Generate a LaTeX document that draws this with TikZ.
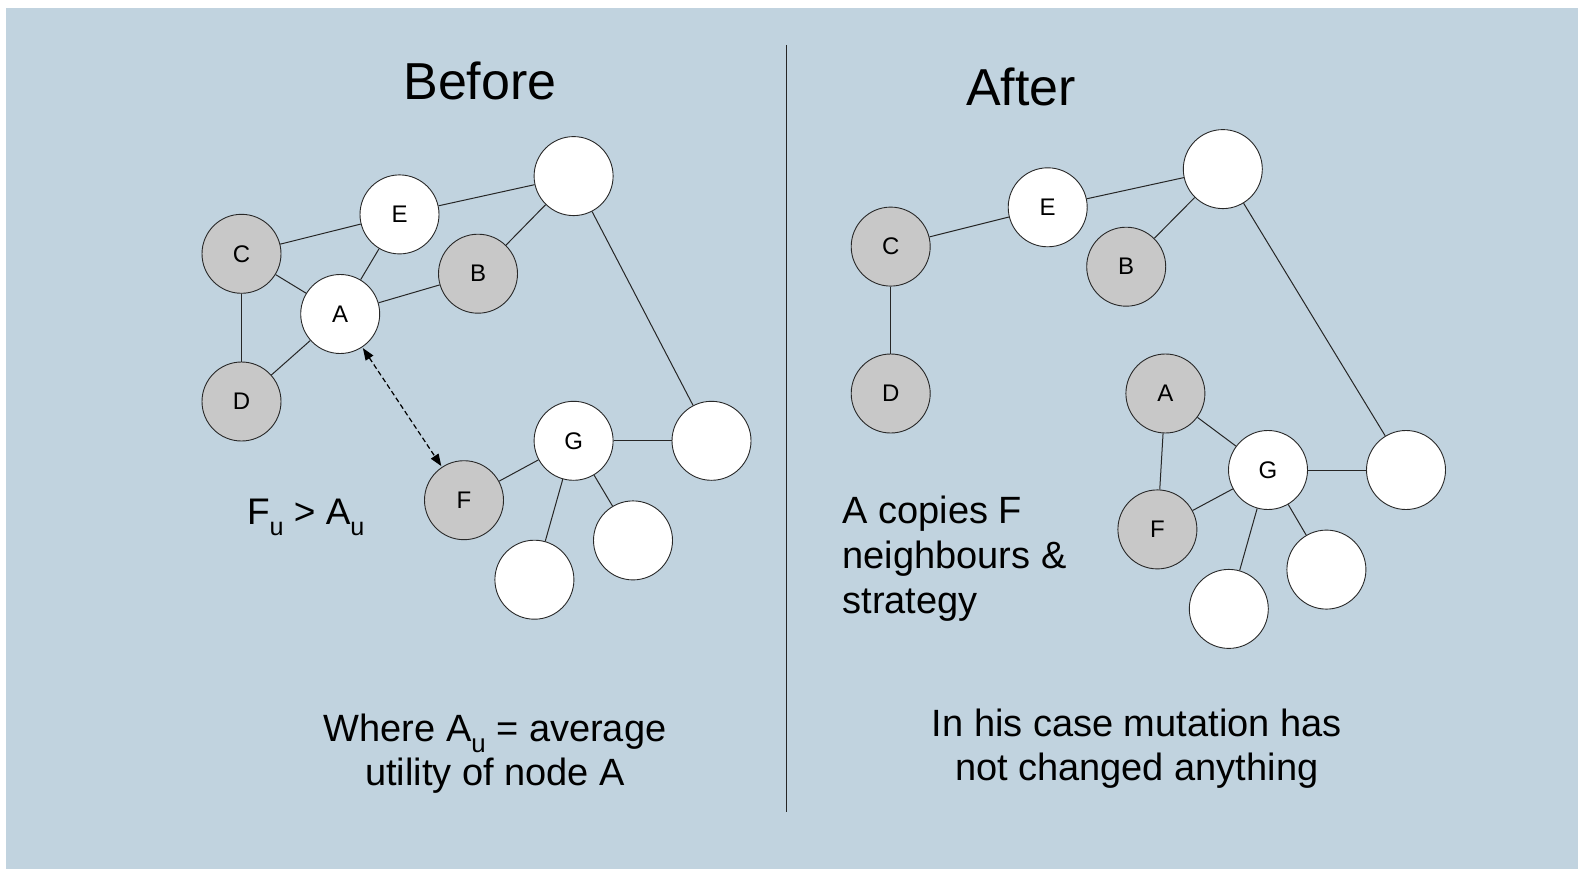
\documentclass[tikz,border=0pt]{standalone}
\usepackage{fontspec}
\setmainfont{Liberation Sans}
\usepackage{graphicx}
\usetikzlibrary{arrows.meta}
\definecolor{panel}{RGB}{193,211,223}
\definecolor{nodegray}{RGB}{200,200,200}
\definecolor{rim}{RGB}{40,40,40}
\newcommand\lowu{\raisebox{-0.3em}{\scalebox{0.68}{u}}}

\begin{document}
\begin{tikzpicture}[x=1pt,y=-1pt,
  agent/.style={circle,draw=rim,line width=0.9pt,fill=white,minimum size=79pt,
    inner sep=0pt,font=\fontsize{24}{24}\selectfont},
  greyagent/.style={agent,fill=nodegray},
  link/.style={draw=black!85,line width=1pt},
  title/.style={font=\fontsize{52}{52}\selectfont,anchor=base},
  caption/.style={font=\fontsize{38}{44}\selectfont,anchor=base,align=center},
  lefttext/.style={font=\fontsize{38}{45}\selectfont,anchor=base west,align=left},
  compare/.style={<->,>={Triangle[length=12pt,width=9pt]},dashed,
    dash pattern=on 5pt off 3pt,line width=1.2pt,shorten <=1pt,shorten >=1pt}]

% page and panel
\useasboundingbox (0,0) rectangle (1578,869);
\fill[white] (0,0) rectangle (1578,869);
\fill[panel] (6,8) rectangle (1578,869);

% divider between the two states
\coordinate (divtop) at (786,45);
\coordinate (divbot) at (786,812);
\draw[line width=1pt,black!85] (divtop) -- (divbot);

% titles
\node[title] (before) at (480,100) {Before};
\node[title] (after) at (1021,106) {After};

% ---------- network before ----------
\node[greyagent] (bC) at (241.5,253.8) {C};
\node[greyagent] (bD) at (241.5,401.5) {D};
\node[agent]     (bA) at (340.2,314) {A};
\node[agent]     (bE) at (399.5,214.4) {E};
\node[greyagent] (bB) at (478,273.7) {B};
\node[agent]     (bT) at (573.6,176.1) {};
\node[agent]     (bG) at (573.6,440.8) {G};
\node[agent]     (bR) at (711.5,440.8) {};
\node[greyagent] (bF) at (464,500.2) {F};
\node[agent]     (bP) at (633,540.4) {};
\node[agent]     (bQ) at (534.4,579.7) {};

\draw[link] (bC) -- (bE);
\draw[link] (bC) -- (bA);
\draw[link] (bC) -- (bD);
\draw[link] (bD) -- (bA);
\draw[link] (bA) -- (bE);
\draw[link] (bA) -- (bB);
\draw[link] (bE) -- (bT);
\draw[link] (bB) -- (bT);
\draw[link] (bT) -- (bR);
\draw[link] (bG) -- (bR);
\draw[link] (bG) -- (bF);
\draw[link] (bG) -- (bP);
\draw[link] (bG) -- (bQ);
\draw[compare] (bA) -- (bF);

\node[anchor=base west,font=\fontsize{37}{37}\selectfont] (ineq) at (243.5,524.3) {F\lowu{} > A\lowu};
% multi-line nodes sit on the baseline of their last line
\node[caption] (where) at (495,785) {Where A\lowu{} = average\\utility of node A};

% ---------- network after ----------
\node[greyagent] (aC) at (890.7,246.6) {C};
\node[greyagent] (aD) at (890.7,393.5) {D};
\node[agent]     (aE) at (1047.7,207.3) {E};
\node[greyagent] (aB) at (1126.2,266.7) {B};
\node[agent]     (aT) at (1222.8,169.1) {};
\node[greyagent] (aA) at (1165.4,393.5) {A};
\node[agent]     (aG) at (1268,470) {G};
\node[greyagent] (aF) at (1157.4,529.4) {F};
\node[agent]     (aR) at (1406,470) {};
\node[agent]     (aP) at (1326.4,569.6) {};
\node[agent]     (aQ) at (1228.8,608.9) {};

\draw[link] (aC) -- (aE);
\draw[link] (aC) -- (aD);
\draw[link] (aE) -- (aT);
\draw[link] (aB) -- (aT);
\draw[link] (aT) -- (aR);
\draw[link] (aA) -- (aG);
\draw[link] (aA) -- (aF);
\draw[link] (aG) -- (aF);
\draw[link] (aG) -- (aR);
\draw[link] (aG) -- (aP);
\draw[link] (aG) -- (aQ);

\node[lefttext] (copies) at (839,613) {A copies F\\neighbours \&\\strategy};
\node[caption] (nochange) at (1136.7,780) {In his case mutation has\\not changed anything};
\end{tikzpicture}
\end{document}
